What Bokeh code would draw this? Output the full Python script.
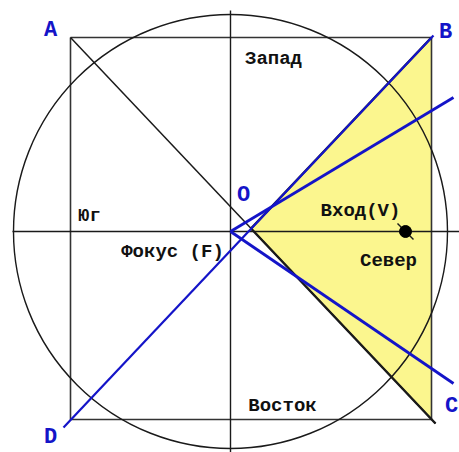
from bokeh.plotting import figure
from bokeh.models import Range1d
from bokeh.core.properties import value
from bokeh.embed import file_html
from bokeh.resources import INLINE

# Geometry (units = pixels, origin at focus F, y up)
rect_x = [-160, 201]
rect_y = [-188, 194]
circle_r = 217
center_sq = [20.5, 3]
line_db_x = [-167, 203]
line_db_y = [-196, 196]
line_ac_x = [-160, 205]
line_ac_y = [194, -192]
ray_up = [223, 134]
ray_down = [223, -152]
v_point = [175, 0]

letter_names = ["A", "B", "C", "D", "O"]
letter_x = [-180, 215, 221, -180, 13]
letter_y = [201, 199, -175, -206, 36]

label_names = ["Запад", "Юг", "Вход(V)", "Север", "Фокус (F)", "Восток"]
label_x = [43, -141, 130, 158, -58, 52]
label_y = [173, 16, 21, -29, -20, -174]

p = figure(width=459, height=452, output_backend="svg", toolbar_location=None,
           x_range=Range1d(-230, 229), y_range=Range1d(-221, 231),
           min_border=0, border_fill_color="white", background_fill_color="white")
p.axis.visible = False
p.grid.visible = False
p.outline_line_color = None

BLACK = "#1a1a1a"
BLUE = "#1414c8"

# yellow triangle (right quarter of the square)
p.patch([center_sq[0], rect_x[1], rect_x[1]], [center_sq[1], rect_y[1], rect_y[0]],
        fill_color="#fbf68e", line_color=None)

# square
p.line([rect_x[0], rect_x[1], rect_x[1], rect_x[0], rect_x[0]],
       [rect_y[1], rect_y[1], rect_y[0], rect_y[0], rect_y[1]],
       line_color="#333333", line_width=1.6)

# axes cross
p.line([-218, 229], [0, 0], line_color=BLACK, line_width=1.4)
p.line([0, 0], [-221, 221], line_color=BLACK, line_width=1.4)

# circle
p.ellipse(x=[0], y=[0], width=[2 * circle_r], height=[2 * circle_r],
          fill_color=None, line_color=BLACK, line_width=1.4)

# black diagonal A-C (thinner upper part, thicker lower part)
p.line(line_ac_x, line_ac_y, line_color=BLACK, line_width=1.5)
p.line([center_sq[0], line_ac_x[1]], [center_sq[1], line_ac_y[1]],
       line_color=BLACK, line_width=2.4)
# black edge under the blue B line
p.line([center_sq[0], rect_x[1]], [center_sq[1], rect_y[1]],
       line_color=BLACK, line_width=2.4)

# blue lines
p.line(line_db_x, line_db_y, line_color=BLUE, line_width=2.2)
p.line([0, ray_up[0]], [0, ray_up[1]], line_color=BLUE, line_width=2.8)
p.line([0, ray_down[0]], [0, ray_down[1]], line_color=BLUE, line_width=2.8)

# point V with small tick
p.line([v_point[0] - 8, v_point[0] + 8], [v_point[1] + 8, v_point[1] - 8],
       line_color=BLACK, line_width=1.5)
p.scatter([v_point[0]], [v_point[1]], size=12, color="black")

# letters
p.text(x=letter_x, y=letter_y, text=letter_names, text_color=BLUE,
       text_font=value("Liberation Mono"), text_font_style="bold",
       text_font_size="22px", text_align="center", text_baseline="middle")

# labels
p.text(x=label_x, y=label_y, text=label_names, text_color="#111111",
       text_font=value("Liberation Mono"), text_font_style="bold",
       text_font_size="19px", text_align="center", text_baseline="middle")

open("out.html", "w").write(file_html(p, INLINE))
